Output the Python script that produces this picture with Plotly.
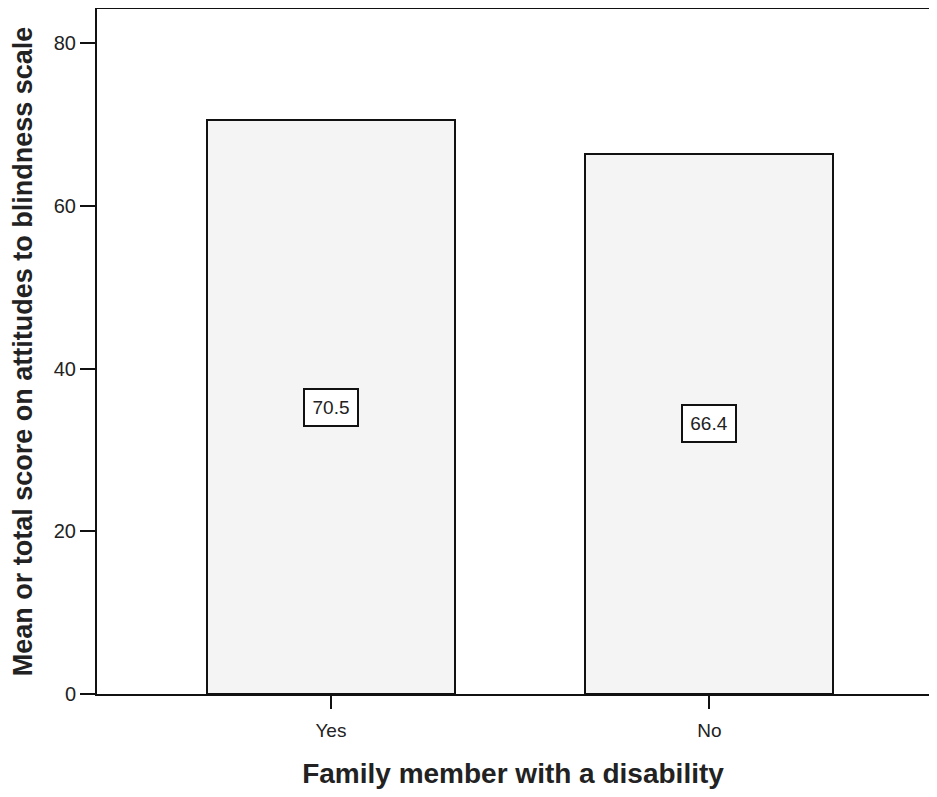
import plotly.graph_objects as go

categories = ["Yes", "No"]
values = [70.5, 66.4]
value_labels = ["70.5", "66.4"]
y_ticks = [0, 20, 40, 60, 80]

fig = go.Figure()
fig.add_trace(go.Bar(
    x=categories, y=values, width=0.655,
    marker=dict(color="#f4f4f4", line=dict(color="#111111", width=2)),
    showlegend=False, hoverinfo="skip",
))

for c, v, t in zip(categories, values, value_labels):
    fig.add_annotation(
        x=c, y=v / 2, text=t, showarrow=False,
        font=dict(family="Liberation Sans, Arial", size=19, color="#222222"),
        bgcolor="white", bordercolor="#111111", borderwidth=2,
        width=50, height=33, borderpad=1,
    )

fig.update_layout(
    width=921, height=781,
    margin=dict(l=89, r=0, t=1, b=95),
    plot_bgcolor="white", paper_bgcolor="white",
    font=dict(family="Liberation Sans, Arial", color="#222222"),
    bargap=0,
)
fig.update_xaxes(
    type="category", range=[-0.618, 1.58],
    showline=True, linecolor="#111111", linewidth=2, mirror=True,
    ticks="outside", ticklen=13, tickwidth=2, tickcolor="#111111",
    ticklabelstandoff=5,
    tickfont=dict(size=19), showgrid=False, zeroline=False,
    title=dict(text="<b>Family member with a disability</b>", font=dict(size=28), standoff=24),
)
fig.update_yaxes(
    range=[0, 84.2], tickvals=y_ticks,
    showline=True, linecolor="#111111", linewidth=2,
    ticks="outside", ticklen=15, tickwidth=2, tickcolor="#111111",
    tickfont=dict(size=20), showgrid=False, zeroline=False,
    title=dict(text="<b>Mean or total score on attitudes to blindness scale</b>", font=dict(size=27), standoff=14),
)

fig.write_html("out.html")
